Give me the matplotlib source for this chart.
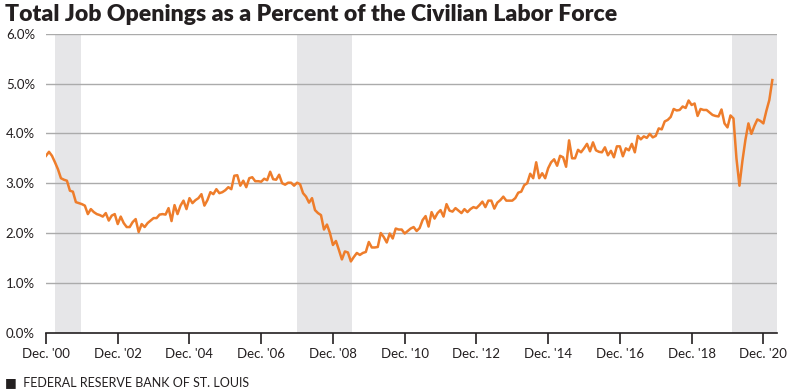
import matplotlib.pyplot as plt
import numpy as np

# monthly job openings / civilian labor force (%), Dec 2000 - Mar 2021
openings_pct = [
    3.55, 3.63, 3.55, 3.42, 3.28, 3.10, 3.07, 3.05, 2.85, 2.83, 2.62, 2.60,   # Dec00-Nov01
    2.58, 2.55, 2.38, 2.48, 2.42, 2.38, 2.36, 2.33, 2.40, 2.25, 2.35, 2.38,   # Dec01-Nov02
    2.18, 2.33, 2.20, 2.12, 2.12, 2.22, 2.28, 2.02, 2.18, 2.12, 2.20, 2.25,   # Dec02-Nov03
    2.30, 2.30, 2.37, 2.38, 2.37, 2.50, 2.24, 2.56, 2.38, 2.55, 2.65, 2.48,   # Dec03-Nov04
    2.70, 2.60, 2.66, 2.70, 2.78, 2.55, 2.66, 2.82, 2.78, 2.88, 2.80, 2.82,   # Dec04-Nov05
    2.86, 2.92, 2.88, 3.15, 3.16, 2.95, 3.05, 2.92, 3.10, 3.12, 3.04, 3.04,   # Dec05-Nov06
    3.03, 3.09, 3.06, 3.23, 3.08, 3.07, 3.17, 3.00, 2.97, 3.01, 3.01, 2.95,   # Dec06-Nov07
    3.01, 2.98, 2.80, 2.73, 2.61, 2.70, 2.46, 2.40, 2.36, 2.07, 2.17, 2.00,   # Dec07-Nov08
    1.76, 1.84, 1.66, 1.47, 1.63, 1.61, 1.43, 1.52, 1.60, 1.56, 1.60, 1.62,   # Dec08-Nov09
    1.82, 1.71, 1.71, 1.72, 2.00, 1.92, 1.81, 1.99, 1.89, 2.09, 2.07, 2.07,   # Dec09-Nov10
    1.99, 2.04, 2.09, 2.12, 2.04, 2.10, 2.26, 2.34, 2.13, 2.42, 2.29, 2.40,   # Dec10-Nov11
    2.46, 2.33, 2.58, 2.45, 2.43, 2.50, 2.45, 2.40, 2.48, 2.42, 2.48, 2.52,   # Dec11-Nov12
    2.50, 2.56, 2.63, 2.52, 2.65, 2.65, 2.49, 2.61, 2.66, 2.73, 2.65, 2.65,   # Dec12-Nov13
    2.65, 2.70, 2.81, 2.83, 2.96, 3.00, 3.19, 3.10, 3.42, 3.10, 3.20, 3.10,   # Dec13-Nov14
    3.30, 3.42, 3.48, 3.35, 3.55, 3.52, 3.33, 3.86, 3.50, 3.50, 3.67, 3.62,   # Dec14-Nov15
    3.70, 3.79, 3.64, 3.82, 3.66, 3.63, 3.62, 3.72, 3.56, 3.65, 3.52, 3.74,   # Dec15-Nov16
    3.74, 3.54, 3.70, 3.66, 3.79, 3.62, 3.95, 3.88, 3.94, 3.91, 3.99, 3.92,   # Dec16-Nov17
    3.95, 4.10, 4.08, 4.24, 4.27, 4.33, 4.49, 4.46, 4.47, 4.54, 4.51, 4.66,   # Dec17-Nov18
    4.57, 4.60, 4.35, 4.49, 4.47, 4.47, 4.42, 4.37, 4.35, 4.34, 4.48, 4.20,   # Dec18-Nov19
    4.12, 4.36, 4.30, 3.50, 2.95, 3.45, 3.87, 4.20, 3.99, 4.15, 4.28, 4.25,   # Dec19-Nov20
    4.20, 4.45, 4.67, 5.07,                                                   # Dec20-Mar21
]

tick_labels = ["Dec. '00", "Dec. '02", "Dec. '04", "Dec. '06", "Dec. '08", "Dec. '10",
               "Dec. '12", "Dec. '14", "Dec. '16", "Dec. '18", "Dec. '20"]
# recessions as month offsets from Dec 2000 (start, end)
recessions = [(3, 11.7), (84, 102.4), (229.5, 245)]

plt.rcParams['font.family'] = ['Lato', 'DejaVu Sans']

months = np.arange(len(openings_pct))

fig = plt.figure(figsize=(8, 3.9), dpi=100)
ax = fig.add_axes([0.0575, 0.147, 0.9135, 0.7665])

for start, end in recessions:
    ax.axvspan(start, end, color='#E6E6E8', lw=0, zorder=0)

for yv in [1, 2, 3, 4, 5, 6]:
    ax.axhline(yv, color='#ABABAB', lw=1.0, zorder=1)

ax.plot(months, openings_pct, color='#EE7D2B', lw=1.8, zorder=3, solid_joinstyle='round')

ax.set_xlim(0, 244.5)
ax.set_ylim(0, 6)
ax.set_yticks(np.arange(0, 7, 1))
ax.set_yticklabels([f"{v:.1f}%" for v in range(7)], fontsize=9.5, color='#231F20')
ax.set_xticks(np.arange(0, 241, 24))
ax.set_xticklabels(tick_labels, fontsize=9.5, color='#231F20')

for s in ['top', 'right', 'left']:
    ax.spines[s].set_visible(False)
ax.spines['bottom'].set_color('#231F20')
ax.spines['bottom'].set_linewidth(1.2)
ax.spines['bottom'].set_zorder(4)
ax.tick_params(axis='y', length=0, pad=8)
ax.tick_params(axis='x', length=8, width=1.2, color='#231F20', pad=3, direction='out')

fig.text(0.006, 0.963, "Total Job Openings as a Percent of the Civilian Labor Force",
         fontsize=16.6, fontweight='heavy', color='#231F20', va='center', ha='left')
fig.text(0.006, 0.021, "\u25A0  FEDERAL RESERVE BANK OF ST. LOUIS", fontsize=9,
         color='#231F20', va='center', ha='left')

fig.savefig('out.png', dpi=100)
